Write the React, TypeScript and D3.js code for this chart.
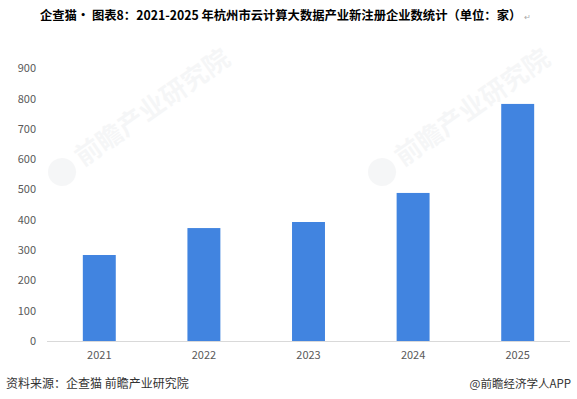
import React from "react";
import * as d3 from "d3";

const years = ["2021", "2022", "2023", "2024", "2025"];
const values = [284, 373, 393, 489, 783];
const yTicks = [0, 100, 200, 300, 400, 500, 600, 700, 800, 900];
const title = "企查猫· 图表8：2021-2025 年杭州市云计算大数据产业新注册企业数统计（单位：家）";
const source = "资料来源：企查猫 前瞻产业研究院";
const credit = "@前瞻经济学人APP";

export default function App() {
  const W = 577, H = 399;
  const x = d3.scaleBand<string>().domain(years).range([47, 570]).paddingInner(0.685).paddingOuter(0.3425);
  const y = d3.scaleLinear().domain([0, 900]).range([341, 68.5]);
  const font = "'Noto Sans CJK SC', 'Noto Sans', sans-serif";
  return (
    <div style={{ position: "fixed", left: 0, top: 0 }}>
      <svg width={W} height={H} style={{ display: "block", background: "#fff" }}>
        {/* watermarks */}
        {[[62, 172], [382, 172]].map(([wx, wy], i) => (
          <g key={i} transform={`translate(${wx},${wy}) rotate(-35)`} opacity={0.045}>
            <circle cx={0} cy={0} r={14} fill="#3a4a5a" />
            <text x={20} y={8} fontFamily={font} fontSize={26} fontWeight={700} fill="#3a4a5a">前瞻产业研究院</text>
          </g>
        ))}
        <text x={40} y={20} fontFamily={font} fontSize={12.3} fontWeight={700} fill="#000">
          {title}
          <tspan dx={3} fontFamily="'DejaVu Sans', sans-serif" fontSize={8} fontWeight={400} fill="#aaa">↵</tspan>
        </text>
        {yTicks.map((t) => (
          <text key={t} x={36} y={y(t)} dy="0.35em" textAnchor="end" fontFamily={font} fontSize={11} fill="#595959">{t}</text>
        ))}
        {years.map((yr, i) => (
          <rect key={yr} x={x(yr)} y={y(values[i])} width={x.bandwidth()} height={y(0) - y(values[i])} fill="#4184E0" />
        ))}
        <line x1={47} x2={570} y1={y(0) + 0.5} y2={y(0) + 0.5} stroke="#d9d9d9" strokeWidth={1} />
        {years.map((yr) => (
          <text key={yr} x={(x(yr) as number) + x.bandwidth() / 2} y={355} dy="0.35em" textAnchor="middle" fontFamily={font} fontSize={11} fill="#595959">{yr}</text>
        ))}
        <text x={6} y={388} fontFamily={font} fontSize={12} fill="#333">{source}</text>
        <text x={571} y={388} textAnchor="end" fontFamily={font} fontSize={11.5} fill="#333">{credit}</text>
      </svg>
    </div>
  );
}
